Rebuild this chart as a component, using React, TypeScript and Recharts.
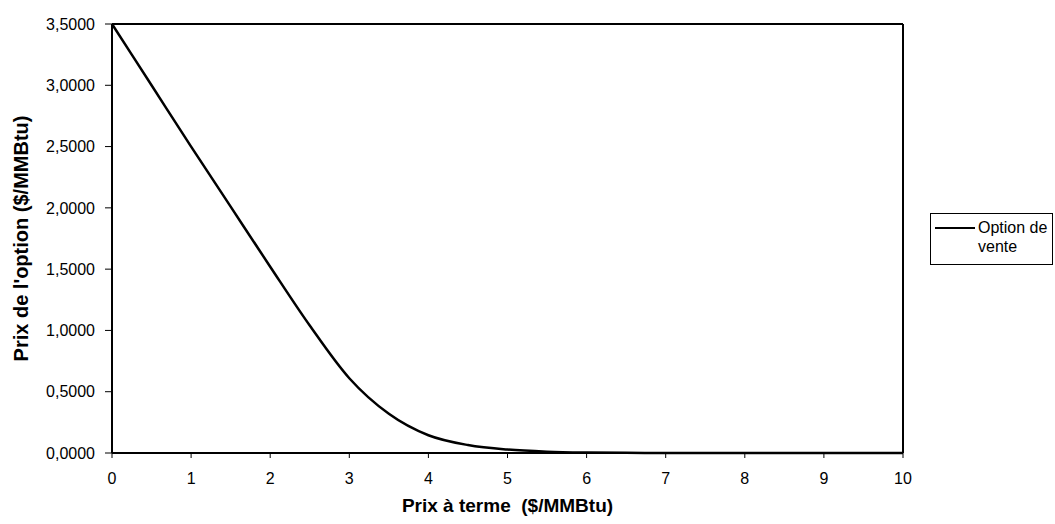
import React from 'react';
import { LineChart, Line, XAxis, YAxis, ReferenceLine, Label } from 'recharts';

const forwardPrices = [0, 0.5, 1, 1.5, 2, 2.5, 3, 3.5, 4, 4.5, 5, 5.5, 6, 6.5, 7, 7.5, 8, 8.5, 9, 9.5, 10];
const putValues = [3.5, 3.0, 2.5, 2.01, 1.52, 1.04, 0.61, 0.32, 0.145, 0.065, 0.028, 0.011, 0.004, 0.0015, 0.0005, 0, 0, 0, 0, 0, 0];
const xTicks = [0, 1, 2, 3, 4, 5, 6, 7, 8, 9, 10];
const yTicks = [0, 0.5, 1, 1.5, 2, 2.5, 3, 3.5];

const data = forwardPrices.map((x, i) => ({ x, put: putValues[i] }));

const FONT = '"Liberation Sans", Arial, sans-serif';

const fmtY = (v: number) => v.toFixed(4).replace('.', ',');

// legend drawn as a plain box to the right of the plot
const LegendBox = () => (
  <div
    style={{
      position: 'absolute',
      left: 930,
      top: 213,
      width: 123,
      height: 52,
      border: '1px solid #000',
      background: '#fff',
      boxSizing: 'border-box',
      fontFamily: FONT,
      fontSize: 16,
      color: '#000',
    }}
  >
    <svg width={45} height={20} style={{ position: 'absolute', left: 4, top: 4 }}>
      <line x1={0} y1={10} x2={40} y2={10} stroke="#000" strokeWidth={2} />
    </svg>
    <div style={{ position: 'absolute', left: 47, top: 4, lineHeight: '19px', whiteSpace: 'nowrap' }}>
      Option de
      <br />
      vente
    </div>
  </div>
);

const YTitle = (props: any) => {
  const vb = props.viewBox || {};
  const cy = vb.y + vb.height / 2;
  return (
    <text
      x={28}
      y={cy}
      transform={`rotate(-90, 28, ${cy})`}
      textAnchor="middle"
      fontFamily={FONT}
      fontSize={20}
      fontWeight="bold"
      fill="#000"
    >
      Prix de l'option ($/MMBtu)
    </text>
  );
};

const XTitle = (props: any) => {
  const vb = props.viewBox || {};
  const cx = vb.x + vb.width / 2;
  return (
    <text
      x={cx}
      y={512}
      textAnchor="middle"
      fontFamily={FONT}
      fontSize={19}
      fontWeight="bold"
      fill="#000"
      style={{ whiteSpace: 'pre' }}
    >
      Prix à terme  ($/MMBtu)
    </text>
  );
};

export default function App() {
  return (
    <div style={{ position: 'absolute', left: 0, top: 0, width: 1055, height: 524, background: '#fff' }}>
      <LineChart width={1055} height={524} data={data} margin={{ top: 24, right: 152, bottom: 0, left: 12 }}>
        <XAxis
          dataKey="x"
          type="number"
          domain={[0, 10]}
          ticks={xTicks}
          height={71}
          axisLine={{ stroke: '#000', strokeWidth: 2 }}
          tickLine={{ stroke: '#000', strokeWidth: 1 }}
          tickSize={5}
          tickMargin={15}
          tick={{ fontSize: 16, fill: '#000', fontFamily: FONT }}
        >
          <Label content={<XTitle />} />
        </XAxis>
        <YAxis
          type="number"
          domain={[0, 3.5]}
          ticks={yTicks}
          width={100}
          tickFormatter={fmtY}
          axisLine={{ stroke: '#000', strokeWidth: 2 }}
          tickLine={{ stroke: '#000', strokeWidth: 1 }}
          tickSize={7}
          tickMargin={10}
          tick={{ fontSize: 16, fill: '#000', fontFamily: FONT }}
        >
          <Label content={<YTitle />} />
        </YAxis>
        <ReferenceLine y={3.5} stroke="#000" strokeWidth={2} />
        <ReferenceLine x={10} stroke="#000" strokeWidth={2} />
        <Line
          type="monotone"
          dataKey="put"
          name="Option de vente"
          stroke="#000"
          strokeWidth={2.5}
          dot={false}
          isAnimationActive={false}
        />
      </LineChart>
      <LegendBox />
    </div>
  );
}
